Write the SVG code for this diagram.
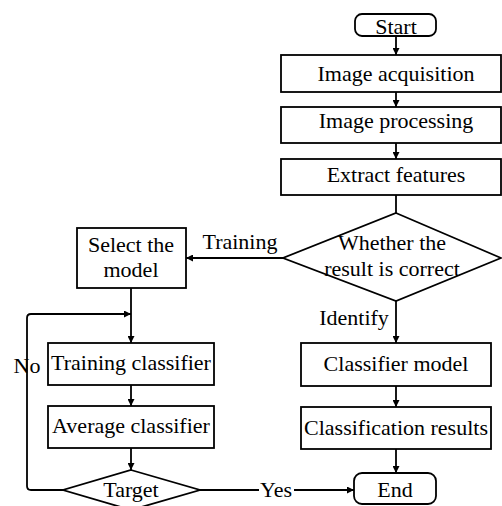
<svg xmlns="http://www.w3.org/2000/svg" width="502" height="506" viewBox="0 0 502 506">
<style>
.b{fill:#fff;stroke:#000;stroke-width:1.8}
.t{font-family:"Liberation Serif","Times New Roman",serif;font-size:22px;fill:#000;text-anchor:middle}
.c{fill:none;stroke:#000;stroke-width:1.8}
</style>
<defs>
<marker id="a" viewBox="0 0 10 10" refX="10" refY="5" markerWidth="7" markerHeight="7" markerUnits="userSpaceOnUse" orient="auto">
<path d="M0,0 L10,5 L0,10 z" fill="#000"/>
</marker>
</defs>
<rect width="502" height="506" fill="#fff"/>
<g id="connectors">
<path class="c" d="M396,36 V55" marker-end="url(#a)"/>
<path class="c" d="M396,92 V107" marker-end="url(#a)"/>
<path class="c" d="M396,143 V159" marker-end="url(#a)"/>
<path class="c" d="M396,195 V213"/>
<path class="c" d="M283,258 H186" marker-end="url(#a)"/>
<path class="c" d="M396,301 V343" marker-end="url(#a)"/>
<path class="c" d="M396,386 V407" marker-end="url(#a)"/>
<path class="c" d="M396,449 V473" marker-end="url(#a)"/>
<path class="c" d="M131,288 V343" marker-end="url(#a)"/>
<path class="c" d="M131,385 V406" marker-end="url(#a)"/>
<path class="c" d="M131,448 V470" marker-end="url(#a)"/>
<path class="c" d="M63,490 H31 Q27,490 27,486 V318 Q27,314 31,314 H131" marker-end="url(#a)"/>
<path class="c" d="M200,490 H259"/>
<path class="c" d="M294,490 H354" marker-end="url(#a)"/>
<text class="t" x="240" y="249">Training</text>
<text class="t" x="354" y="325">Identify</text>
<text class="t" x="27" y="373">No</text>
<text class="t" x="276" y="497">Yes</text>
</g>
<g id="start"><rect class="b" x="355" y="14" width="81" height="22" rx="7"/><text class="t" x="396" y="34">Start</text></g>
<g id="acq"><rect class="b" x="281" y="55" width="220" height="37"/><text class="t" x="396" y="81">Image acquisition</text></g>
<g id="proc"><rect class="b" x="281" y="107" width="220" height="36"/><text class="t" x="396" y="128">Image processing</text></g>
<g id="feat"><rect class="b" x="281" y="159" width="220" height="36"/><text class="t" x="396" y="182">Extract features</text></g>
<g id="decision"><path class="b" d="M396,213 L501,258 L396,301 L283,258 Z"/><text class="t" x="392" y="250">Whether the</text><text class="t" x="392" y="276">result is correct</text></g>
<g id="select"><rect class="b" x="77" y="228" width="109" height="60"/><text class="t" x="131" y="252">Select the</text><text class="t" x="131" y="277">model</text></g>
<g id="model"><rect class="b" x="301" y="343" width="190" height="43"/><text class="t" x="396" y="371">Classifier model</text></g>
<g id="results"><rect class="b" x="301" y="407" width="190" height="42"/><text class="t" x="396" y="435">Classification results</text></g>
<g id="end"><rect class="b" x="354" y="473" width="82" height="31" rx="8"/><text class="t" x="395" y="497">End</text></g>
<g id="train"><rect class="b" x="48" y="343" width="166" height="42"/><text class="t" x="131" y="370">Training classifier</text></g>
<g id="avg"><rect class="b" x="48" y="406" width="166" height="42"/><text class="t" x="131" y="433">Average classifier</text></g>
<g id="target"><path class="b" d="M131,470 L200,490 L131,510 L63,490 Z"/><text class="t" x="131" y="497">Target</text></g>
</svg>
